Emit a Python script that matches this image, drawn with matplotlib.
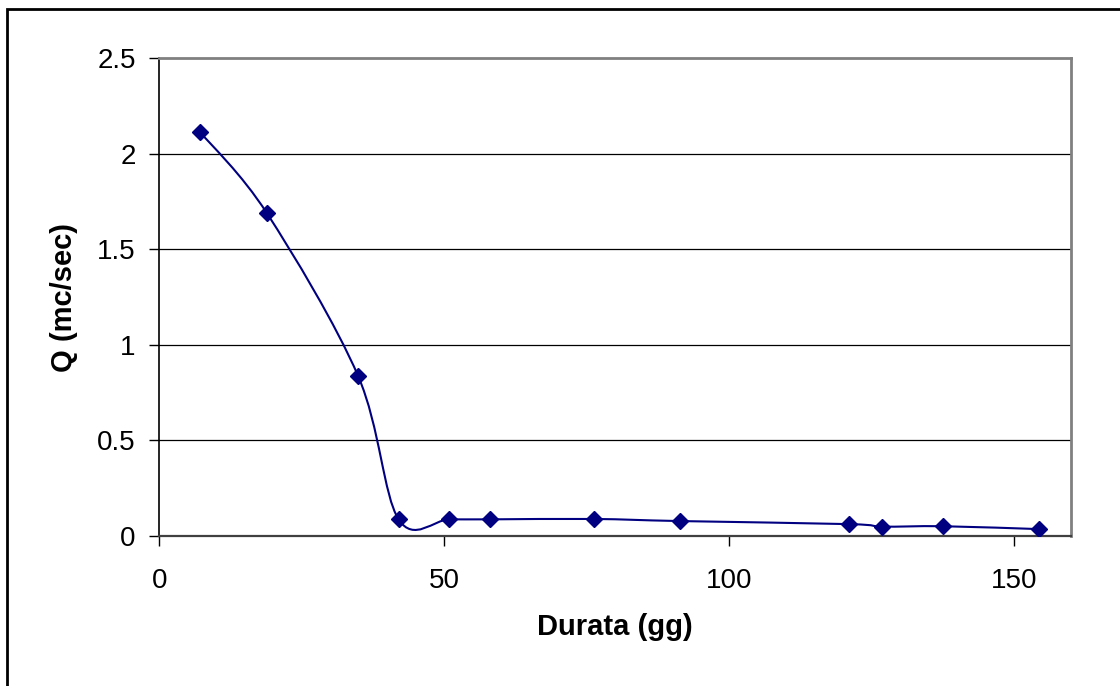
import numpy as np
import matplotlib
matplotlib.use("Agg")
import matplotlib.pyplot as plt
from matplotlib.path import Path
from matplotlib.patches import PathPatch, Rectangle

# durata (giorni) e portata Q (mc/sec)
durata = [7.2, 18.9, 34.9, 42.0, 50.9, 58.1, 76.2, 91.4, 121.1, 126.9, 137.5, 154.3]
portata = [2.113, 1.689, 0.837, 0.087, 0.087, 0.087, 0.089, 0.078, 0.062, 0.049, 0.051, 0.036]

x_ticks = [0, 50, 100, 150]
y_ticks = [0, 0.5, 1, 1.5, 2, 2.5]
y_tick_labels = ["0", "0.5", "1", "1.5", "2", "2.5"]

NAVY = "#000080"


def smooth_path(xs, ys):
    """Bezier (Catmull-Rom) path through the points, like Excel's smoothed line."""
    pts = np.column_stack([xs, ys])
    ext = np.vstack([pts[0], pts, pts[-1]])
    verts = [tuple(pts[0])]
    codes = [Path.MOVETO]
    for i in range(len(pts) - 1):
        p0, p1, p2, p3 = ext[i], ext[i + 1], ext[i + 2], ext[i + 3]
        c1 = p1 + (p2 - p0) / 6.0
        c2 = p2 - (p3 - p1) / 6.0
        verts += [tuple(c1), tuple(c2), tuple(p2)]
        codes += [Path.CURVE4] * 3
    return Path(verts, codes)


plt.rcParams['font.family'] = ['Liberation Sans', 'DejaVu Sans']

fig = plt.figure(figsize=(11.2, 6.86), dpi=100)
ax = fig.add_axes([0.1422, 0.2187, 0.8141, 0.6963])

# outer chart frame (right and bottom edges fall outside the image)
fig.patches.append(Rectangle((6.5 / 1120, -0.1), 1.2, (686 - 8.5) / 686 + 0.1,
                             transform=fig.transFigure, fill=False,
                             edgecolor="black", linewidth=2.0))

for y in y_ticks[1:-1]:
    ax.axhline(y, color="black", linewidth=0.9, zorder=1)

ax.add_patch(PathPatch(smooth_path(durata, portata), facecolor="none",
                       edgecolor=NAVY, linewidth=1.5, zorder=3))
ax.plot(durata, portata, linestyle="none", marker="D", markersize=8.5,
        color=NAVY, zorder=4)

ax.set_xlim(0, 160)
ax.set_ylim(0, 2.5)
ax.set_xticks(x_ticks)
ax.set_yticks(y_ticks)
ax.set_yticklabels(y_tick_labels)

ax.tick_params(axis="x", direction="out", length=7, width=1, pad=16,
               labelsize=20, colors="black")
ax.tick_params(axis="y", direction="out", length=7, width=1, pad=10,
               labelsize=20, colors="black")

ax.spines["left"].set_color("black")
ax.spines["left"].set_linewidth(1.2)
ax.spines["bottom"].set_color("#404040")
ax.spines["bottom"].set_linewidth(1.6)
ax.spines["top"].set_color("#808080")
ax.spines["top"].set_linewidth(2.0)
ax.spines["right"].set_color("#808080")
ax.spines["right"].set_linewidth(2.0)

ax.set_xlabel("Durata (gg)", fontsize=21, fontweight="bold", labelpad=14)
ax.set_ylabel("Q (mc/sec)", fontsize=21, fontweight="bold", labelpad=14)

fig.savefig("out.png", dpi=100)
